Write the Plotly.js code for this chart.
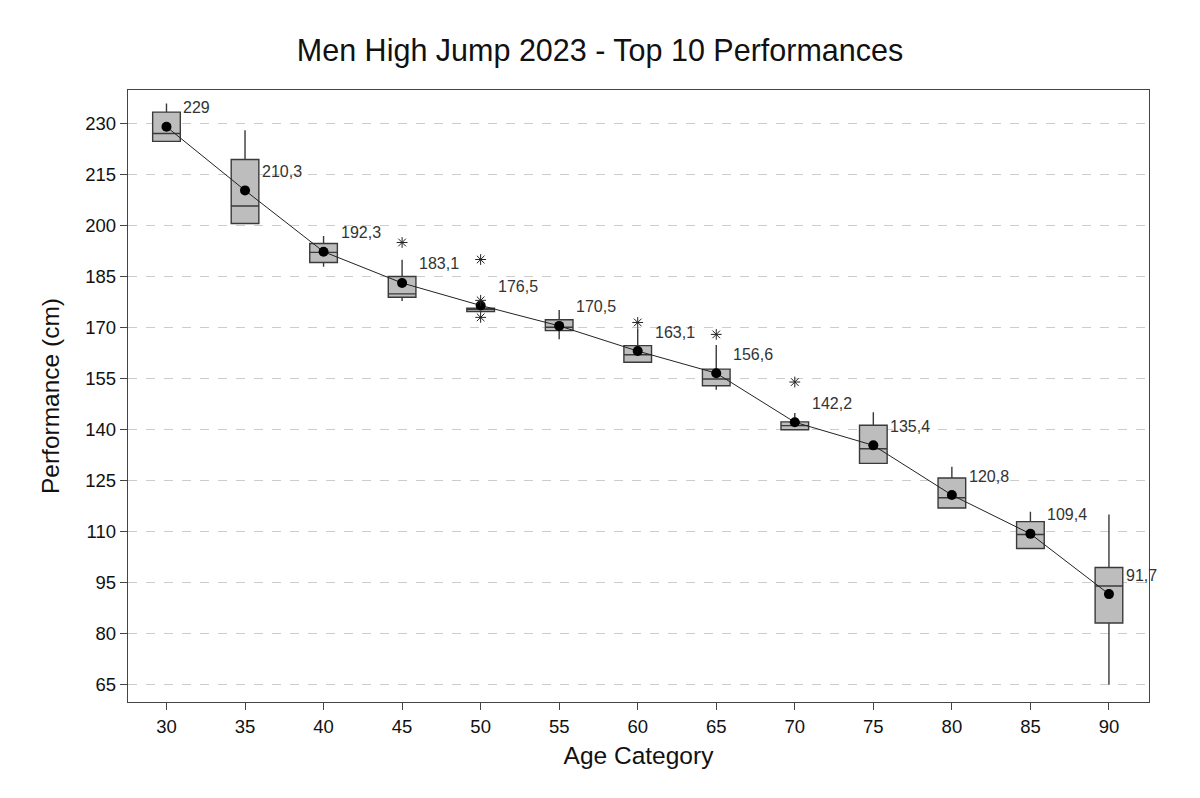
<!DOCTYPE html>
<html>
<head>
<meta charset="utf-8">
<script src="https://cdn.plot.ly/plotly-3.0.1.min.js"></script>
<style>html,body{margin:0;padding:0;background:#fff;}#chart{width:1200px;height:798px;}</style>
</head>
<body>
<div id="chart"></div>
<script>
// Age categories
const ageCategories = [30, 35, 40, 45, 50, 55, 60, 65, 70, 75, 80, 85, 90];
// Box statistics (cm)
const q1Values      = [224.7, 200.6, 189.1, 178.9, 174.7, 169.1, 159.8, 152.9, 140.0, 130.1, 117.0, 105.1, 83.2];
const medianValues  = [227.0, 205.7, 192.1, 179.9, 175.3, 170.1, 162.0, 154.9, 141.2, 134.4, 120.0, 109.2, 94.1];
const q3Values      = [233.3, 219.4, 194.7, 185.0, 175.7, 172.3, 164.7, 157.8, 142.3, 141.3, 125.8, 113.0, 99.5];
const lowerWhisker  = [224.7, 200.6, 187.9, 177.8, 174.7, 166.6, 159.8, 151.7, 140.0, 130.1, 117.0, 105.1, 65.1];
const upperWhisker  = [235.8, 228.0, 196.9, 189.9, 175.7, 175.2, 169.8, 164.9, 144.9, 145.1, 129.1, 115.9, 115.1];
// Means
const meanValues = [229, 210.3, 192.3, 183.1, 176.5, 170.5, 163.1, 156.6, 142.2, 135.4, 120.8, 109.4, 91.7];
const meanLabels = ["229", "210,3", "192,3", "183,1", "176,5", "170,5", "163,1", "156,6", "142,2", "135,4", "120,8", "109,4", "91,7"];
// Outliers
const outlierAges   = [45, 50, 50, 50, 60, 65, 70];
const outlierValues = [195, 190, 178, 173, 171.5, 168, 154];
// Y ticks
const yTicks = [65, 80, 95, 110, 125, 140, 155, 170, 185, 200, 215, 230];

const traces = [
  {
    type: 'box',
    x: ageCategories,
    q1: q1Values,
    median: medianValues,
    q3: q3Values,
    lowerfence: lowerWhisker,
    upperfence: upperWhisker,
    width: 1.76,
    whiskerwidth: 0,
    boxpoints: false,
    fillcolor: '#bdbdbd',
    line: {color: '#3a3a3a', width: 1.4},
    hoverinfo: 'skip',
    showlegend: false
  },
  {
    type: 'scatter',
    mode: 'lines+markers',
    x: ageCategories,
    y: meanValues,
    line: {color: '#222', width: 1},
    marker: {color: '#000', size: 10},
    hoverinfo: 'skip',
    showlegend: false
  },
  {
    type: 'scatter',
    mode: 'markers',
    x: outlierAges,
    y: outlierValues,
    marker: {symbol: 'asterisk-open', size: 9, color: '#222', line: {color: '#222', width: 1}},
    hoverinfo: 'skip',
    showlegend: false
  }
];

const annotations = ageCategories.map((a, i) => ({
  x: a, y: meanValues[i], xref: 'x', yref: 'y',
  text: meanLabels[i], showarrow: false,
  xanchor: 'left', yanchor: 'middle', xshift: 15, yshift: 19,
  font: {family: 'Liberation Sans, Arial, sans-serif', size: 16, color: '#333'}
}));

const layout = {
  width: 1200, height: 798,
  paper_bgcolor: '#fff', plot_bgcolor: '#fff',
  margin: {l: 128, r: 51, t: 90, b: 96},
  font: {family: 'Liberation Sans, Arial, sans-serif', color: '#111'},
  title: {
    text: 'Men High Jump 2023 - Top 10 Performances',
    font: {size: 30.5, color: '#111'},
    x: 0.5, xanchor: 'center', y: 1 - 50/798, yanchor: 'middle', yref: 'container'
  },
  xaxis: {
    range: [27.55, 92.55],
    tickvals: ageCategories,
    ticktext: ageCategories.map(String),
    ticks: 'outside', ticklen: 7, tickcolor: '#444', tickwidth: 1,
    tickfont: {size: 18.5, color: '#111'},
    showgrid: false, zeroline: false,
    showline: true, linecolor: '#444', linewidth: 1.3, mirror: true,
    title: {text: 'Age Category', font: {size: 24.5, color: '#111'}, standoff: 11}
  },
  yaxis: {
    range: [60, 239.8],
    tickvals: yTicks,
    ticks: 'outside', ticklen: 7, tickcolor: '#444', tickwidth: 1,
    tickfont: {size: 18.5, color: '#111'},
    showgrid: true, gridcolor: '#cccccc', griddash: 'dash', gridwidth: 1,
    zeroline: false,
    showline: true, linecolor: '#444', linewidth: 1.3, mirror: true,
    title: {text: 'Performance (cm)', font: {size: 24.5, color: '#111'}, standoff: 18}
  },
  annotations: annotations
};

Plotly.newPlot('chart', traces, layout, {displayModeBar: false, staticPlot: true});
</script>
</body>
</html>
